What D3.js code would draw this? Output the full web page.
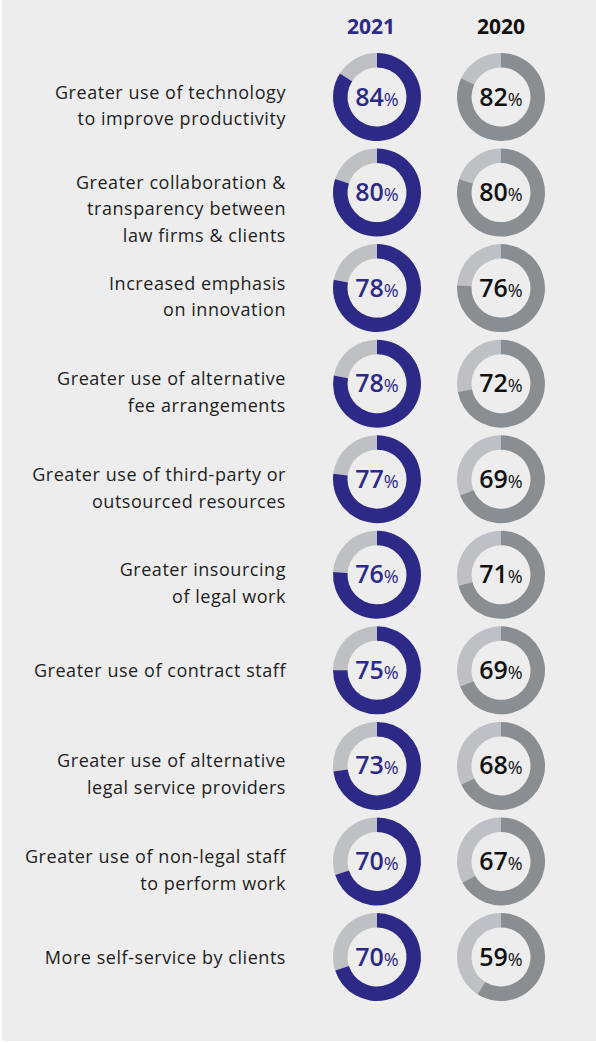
<!DOCTYPE html>
<html>
<head>
<meta charset="utf-8">
<script src="https://cdn.jsdelivr.net/npm/d3@7/dist/d3.min.js"></script>
<style>
  html, body { margin: 0; padding: 0; background: #ffffff; }
  svg { display: block; }
</style>
</head>
<body>
<svg id="chart" width="596" height="1043"></svg>
<script>
// ---- data ----
const categories = [
  ["Greater use of technology", "to improve productivity"],
  ["Greater collaboration &", "transparency between", "law firms & clients"],
  ["Increased emphasis", "on innovation"],
  ["Greater use of alternative", "fee arrangements"],
  ["Greater use of third-party or", "outsourced resources"],
  ["Greater insourcing", "of legal work"],
  ["Greater use of contract staff"],
  ["Greater use of alternative", "legal service providers"],
  ["Greater use of non-legal staff", "to perform work"],
  ["More self-service by clients"]
];
const years = ["2021", "2020"];
const values2021 = [84, 80, 78, 78, 77, 76, 75, 73, 70, 70];
const values2020 = [82, 80, 76, 72, 69, 71, 69, 68, 67, 59];

// ---- layout ----
const W = 596, H = 1043;
const svg = d3.select("#chart");
const colors = {
  bg: "#ededed",
  navy: "#2d2a87",
  dark: "#8b8e91",
  light: "#bfc0c3",
  text: "#1e1e1e"
};

svg.append("rect").attr("x", 2).attr("y", 0).attr("width", W - 2).attr("height", H - 2).attr("fill", colors.bg);

const rowIdx = d3.range(categories.length);
const y = d3.scalePoint().domain(rowIdx).range([97, 957]);
const x = d3.scalePoint().domain(years).range([377, 501]);
const angle = d3.scaleLinear().domain([0, 100]).range([0, 2 * Math.PI]);

const outerR = 44, innerR = 29.5;
const arc = d3.arc().innerRadius(innerR).outerRadius(outerR);

const series = [
  { year: "2021", values: values2021, fill: colors.navy, textFill: colors.navy },
  { year: "2020", values: values2020, fill: colors.dark, textFill: "#111111" }
];

// headers
svg.selectAll("text.hdr").data(series).join("text")
  .attr("class", "hdr")
  .attr("x", d => x(d.year) - (d.year === "2021" ? 6 : 0))
  .attr("y", 34)
  .attr("text-anchor", "middle")
  .attr("font-family", "'Open Sans', sans-serif")
  .attr("font-weight", 700)
  .attr("font-size", 21)
  .attr("fill", d => d.textFill)
  .text(d => d.year);

// labels
const lineH = 26.8;
const labelG = svg.append("g");
categories.forEach((lines, i) => {
  const first = y(i) + 7 - (lines.length - 1) * 5.5;
  const t = labelG.append("text")
    .attr("text-anchor", "end")
    .attr("font-family", "'Open Sans', sans-serif")
    .attr("font-size", 18)
    .attr("letter-spacing", 0.55)
    .attr("fill", colors.text);
  lines.forEach((ln, j) => {
    t.append("tspan").attr("x", 286).attr("y", first + j * lineH).text(ln);
  });
});

// donuts
series.forEach(s => {
  const g = svg.append("g");
  const cells = g.selectAll("g").data(s.values).join("g")
    .attr("transform", (v, i) => `translate(${x(s.year)},${y(i)})`);
  cells.append("path")
    .attr("fill", colors.light)
    .attr("d", v => arc({ startAngle: angle(v), endAngle: angle(100) }));
  cells.append("path")
    .attr("fill", s.fill)
    .attr("d", v => arc({ startAngle: 0, endAngle: angle(v) }));
  const txt = cells.append("text")
    .attr("text-anchor", "middle")
    .attr("y", 8.5)
    .attr("fill", s.textFill)
    .attr("font-family", "'Open Sans', sans-serif");
  txt.append("tspan").attr("font-weight", 600).attr("font-size", 25).text(v => v);
  txt.append("tspan").attr("font-weight", 400).attr("font-size", 18).text("%");
});
</script>
</body>
</html>
